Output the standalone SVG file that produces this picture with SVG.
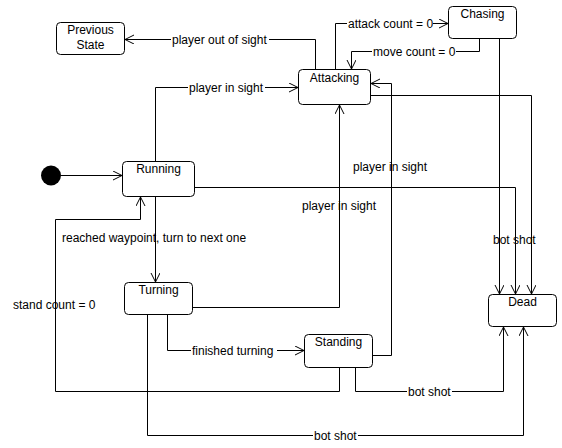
<svg xmlns="http://www.w3.org/2000/svg" width="562" height="448" viewBox="0 0 562 448">
<style>
.node rect{fill:#fff;stroke:#000;stroke-width:1}
text{font-family:"Liberation Sans",Arial,sans-serif;font-size:12px;fill:#000}
.c text{text-anchor:start}
.n text{text-anchor:middle}
.e{fill:none;stroke:#000;stroke-width:1}
</style>
<defs>
<marker id="a" markerUnits="userSpaceOnUse" markerWidth="12" markerHeight="12" refX="9" refY="4.5" orient="auto">
<path d="M0,0 L9,4.5 L0,9" fill="none" stroke="#000" stroke-width="1"/>
</marker>
</defs>
<rect width="562" height="448" fill="#fff"/>
<g id="connectors">
<path class="e" d="M315.5,69 V39.5 H269"/>
<path class="e" d="M171,39.5 H125" marker-end="url(#a)"/>
<path class="e" d="M335.5,69 V23.5 H347"/>
<path class="e" d="M433,23.5 H448" marker-end="url(#a)"/>
<path class="e" d="M479.5,39 V51.5 H456"/>
<path class="e" d="M372,51.5 H351.5 V69" marker-end="url(#a)"/>
<path class="e" d="M155.5,161 V87.5 H188"/>
<path class="e" d="M265,87.5 H298" marker-end="url(#a)"/>
<path class="e" d="M61,175.5 H122" marker-end="url(#a)"/>
<path class="e" d="M155.5,197 V282" marker-end="url(#a)"/>
<path class="e" d="M339.5,368 V391.5 H55.5 V219.5 H140.5 V197" marker-end="url(#a)"/>
<path class="e" d="M193,307.5 H339.5 V105" marker-end="url(#a)"/>
<path class="e" d="M373,355.5 H391.5 V83.5 H371" marker-end="url(#a)"/>
<path class="e" d="M167.5,315 V350.5 H191"/>
<path class="e" d="M277,350.5 H304" marker-end="url(#a)"/>
<path class="e" d="M371,95.5 H531.5 V294" marker-end="url(#a)"/>
<path class="e" d="M499.5,39 V294" marker-end="url(#a)"/>
<path class="e" d="M195,187.5 H515.5 V294" marker-end="url(#a)"/>
<path class="e" d="M355.5,368 V391.5 H407"/>
<path class="e" d="M452,391.5 H503.5 V327" marker-end="url(#a)"/>
<path class="e" d="M147.5,315 V435.5 H313"/>
<path class="e" d="M358,435.5 H523.5 V327" marker-end="url(#a)"/>
<g class="c">
<text x="172" y="43.5">player out of sight</text>
<text x="348" y="27.5">attack count = 0</text>
<text x="373" y="55.5">move count = 0</text>
<text x="189" y="91.5">player in sight</text>
<text x="62" y="242">reached waypoint, turn to next one</text>
<text x="13" y="309">stand count = 0</text>
<text x="302" y="210">player in sight</text>
<text x="353" y="171">player in sight</text>
<text x="192" y="354.5">finished turning</text>
<text x="493" y="244">bot shot</text>
<text x="408" y="395.5">bot shot</text>
<text x="314" y="439.5">bot shot</text>
</g>
</g>
<g id="initial"><circle cx="51" cy="175.5" r="10" fill="#000"/></g>
<g id="previous" class="node n"><rect x="56.5" y="22.5" width="68" height="32" rx="4"/><text x="90.5" y="34">Previous</text><text x="90.5" y="49">State</text></g>
<g id="attacking" class="node n"><rect x="298.5" y="69.5" width="72" height="35" rx="4"/><text x="334.5" y="81.5">Attacking</text></g>
<g id="chasing" class="node n"><rect x="448.5" y="6.5" width="68" height="32" rx="4"/><text x="482.5" y="18">Chasing</text></g>
<g id="running" class="node n"><rect x="122.5" y="161.5" width="72" height="35" rx="4"/><text x="158.5" y="173">Running</text></g>
<g id="turning" class="node n"><rect x="124.5" y="282.5" width="68" height="32" rx="4"/><text x="158.5" y="294">Turning</text></g>
<g id="standing" class="node n"><rect x="304.5" y="334.5" width="68" height="33" rx="4"/><text x="338.5" y="346">Standing</text></g>
<g id="dead" class="node n"><rect x="488.5" y="294.5" width="68" height="32" rx="4"/><text x="522.5" y="306">Dead</text></g>
</svg>
